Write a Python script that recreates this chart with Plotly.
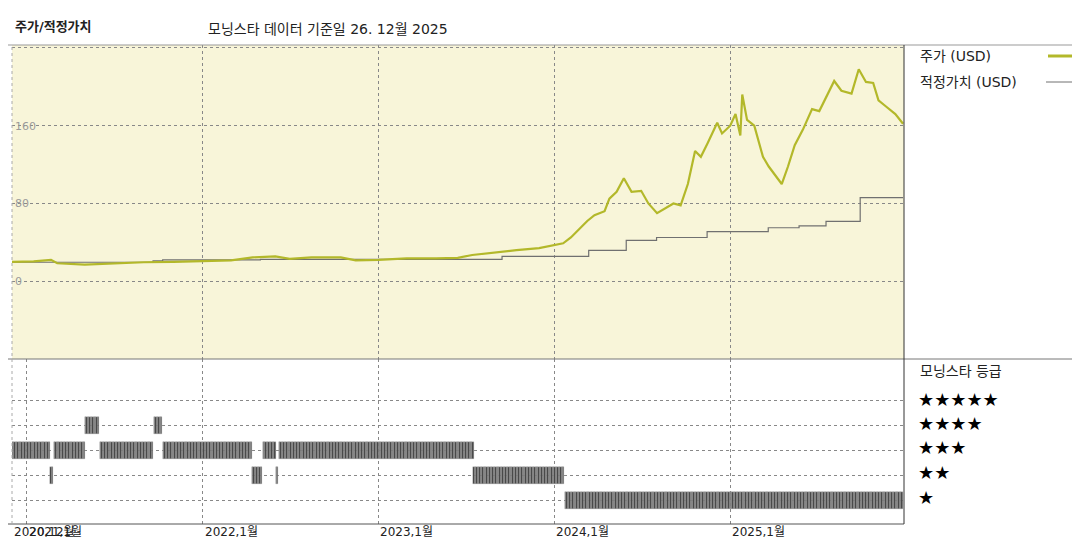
import plotly.graph_objects as go
import pandas as pd

price_dates = ["2020-12-01","2021-01-15","2021-02-20","2021-03-05","2021-05-01","2021-07-01","2021-09-01","2021-11-01",
 "2022-01-01","2022-03-01","2022-04-15","2022-06-01","2022-07-01","2022-08-15","2022-10-15","2022-11-15",
 "2023-01-01","2023-03-01","2023-05-01","2023-06-15","2023-07-15","2023-09-01","2023-10-15","2023-12-01",
 "2024-01-01","2024-01-20","2024-02-05","2024-02-25","2024-03-10","2024-03-25","2024-04-15","2024-04-25",
 "2024-05-10","2024-05-25","2024-06-10","2024-06-30","2024-07-15","2024-08-02","2024-08-15","2024-09-05",
 "2024-09-20","2024-10-05","2024-10-20","2024-11-01","2024-11-15","2024-12-05","2024-12-15","2025-01-01",
 "2025-01-12","2025-01-22","2025-01-26","2025-02-05","2025-02-20","2025-03-10","2025-03-22","2025-04-05",
 "2025-04-18","2025-05-01","2025-05-15","2025-06-01","2025-06-20","2025-07-05","2025-07-20","2025-08-05",
 "2025-08-20","2025-09-10","2025-09-25","2025-10-10","2025-10-25","2025-11-05","2025-11-20","2025-12-10","2025-12-26"]
price_vals = [20,20.5,22,18.5,17,18.5,19.5,20,
 21,21.5,24.5,25.5,23,24.5,24.5,21.5,
 22,23.5,23.5,24,27,30,32,34,
 37,39,45,55,62,68,72,85,
 92,106,92,93,80,70,74,80,
 78,100,134,128,142,163,152,160,
 172,150,192,166,160,128,118,108,
 100,118,140,156,177,175,190,206,
 196,193,218,205,204,186,180,172,162]

fv_dates = ["2020-12-01","2021-09-20","2021-10-10","2022-05-01","2023-09-15","2024-03-13","2024-05-30",
            "2024-08-01","2024-11-14","2025-03-21","2025-05-24","2025-07-19","2025-09-28","2025-12-26"]
fv_vals = [19.5,21,22,22.5,25.6,31.8,42,45,51,55,57,61.5,86,86]

rating_start = ["2020-12-01","2021-02-20","2021-02-27","2021-05-03","2021-06-03","2021-09-23","2021-10-12",
                "2022-04-15","2022-05-07","2022-06-03","2022-06-10","2023-07-19","2024-01-25"]
rating_end   = ["2021-02-18","2021-02-24","2021-05-01","2021-06-01","2021-09-21","2021-10-10","2022-04-13",
                "2022-05-05","2022-06-01","2022-06-07","2023-07-17","2024-01-23","2025-12-26"]
rating_vals  = [3,2,3,4,3,4,3,2,3,2,3,2,1]

ytick_vals = [0,80,160,240]
star_labels = ["★★★★★","★★★★","★★★","★★","★"]
x_tick_dates = ["2020-12-01","2021-01-01","2022-01-01","2023-01-01","2024-01-01","2025-01-01"]
x_tick_labels = ["2020,12월","2021,1월","2022,1월","2023,1월","2024,1월","2025,1월"]

def px(x): return (x-4)/892
def py(y): return (516-y)/479

fig = go.Figure()
fig.add_trace(go.Scatter(x=fv_dates, y=fv_vals, mode="lines", line=dict(color="#707070", width=1.2, shape="hv"),
                         xaxis="x", yaxis="y", showlegend=False))
fig.add_trace(go.Scatter(x=price_dates, y=price_vals, mode="lines", line=dict(color="#b3b82a", width=2.2),
                         xaxis="x", yaxis="y", showlegend=False))

bx, by, bb = [], [], []
for s, e, r in zip(rating_start, rating_end, rating_vals):
    for d in pd.date_range(s, e, freq="3D"):
        bx.append(d); by.append(0.68); bb.append(r-0.34)
fig.add_trace(go.Bar(x=bx, y=by, base=bb, width=3*86400000, marker=dict(color="#3a3a3a", line=dict(width=0.4, color="#bbbbbb")),
                     xaxis="x2", yaxis="y2", showlegend=False))

grid = dict(showgrid=True, gridcolor="#888", griddash="dot", gridwidth=1, automargin=False)
xr = ["2020-12-01","2025-12-28"]
fig.update_layout(
    width=1080, height=540, margin=dict(l=4, r=184, t=37, b=24, autoexpand=False),
    paper_bgcolor="white", plot_bgcolor="rgba(0,0,0,0)", bargap=0,
    font=dict(family="DejaVu Sans, Noto Sans CJK KR, sans-serif"),
    xaxis=dict(domain=[0,1], range=xr, type="date", tickvals=x_tick_dates, showticklabels=False, anchor="y", **grid, zeroline=False),
    yaxis=dict(domain=[py(351),1], range=[-80,243], tickvals=ytick_vals, ticklabelposition="inside",
               tickfont=dict(size=11, color="#9a9a9a"), zeroline=False, **grid),
    xaxis2=dict(domain=[0,1], range=xr, type="date", tickvals=x_tick_dates, showticklabels=False, anchor="y2", **grid, zeroline=False),
    yaxis2=dict(domain=[0,py(351)], range=[0.04,6.64], tickvals=[1,2,3,4,5], showticklabels=False, zeroline=False, **grid),
)
shapes = [
    dict(type="rect", xref="paper", yref="paper", x0=0, x1=1, y0=py(351), y1=1, fillcolor="#f8f5d9", line=dict(width=0), layer="below"),
    dict(type="line", xref="paper", yref="paper", x0=px(0), x1=px(1080), y0=1, y1=1, line=dict(color="#999", width=1)),
    dict(type="line", xref="paper", yref="paper", x0=px(0), x1=px(1080), y0=py(351), y1=py(351), line=dict(color="#777", width=1)),
    dict(type="line", xref="paper", yref="paper", x0=px(0), x1=px(896), y0=0, y1=0, line=dict(color="#555", width=1)),
    dict(type="line", xref="paper", yref="paper", x0=1, x1=1, y0=0, y1=1, line=dict(color="#333", width=1)),
    dict(type="line", xref="paper", yref="paper", x0=0, x1=0, y0=0, y1=1, line=dict(color="#aaa", width=1, dash="dot")),
    dict(type="line", xref="paper", yref="paper", x0=px(1040), x1=px(1072), y0=py(48), y1=py(48), line=dict(color="#b3b82a", width=3)),
    dict(type="line", xref="paper", yref="paper", x0=px(1038), x1=px(1072), y0=py(74), y1=py(74), line=dict(color="#707070", width=1)),
]
fig.update_layout(shapes=shapes)
ann = [
    dict(text="<b>주가/적정가치</b>", x=px(5), y=py(18), xanchor="left", font=dict(size=13, color="#222")),
    dict(text="모닝스타 데이터 기준일 26. 12월 2025", x=px(198), y=py(21), xanchor="left", font=dict(size=14, color="#222")),
    dict(text="주가 (USD)", x=px(910), y=py(48), xanchor="left", font=dict(size=14, color="#222")),
    dict(text="적정가치 (USD)", x=px(910), y=py(74), xanchor="left", font=dict(size=14, color="#222")),
    dict(text="모닝스타 등급", x=px(910), y=py(363), xanchor="left", font=dict(size=14, color="#222")),
]
for i, s in enumerate(star_labels):
    ann.append(dict(text=s, x=px(908), y=py(391+24.5*i), xanchor="left", font=dict(size=18, color="#000")))
for d, l in zip(x_tick_dates, x_tick_labels):
    ann.append(dict(text=l, x=d, xref="x2", y=py(524), yref="paper", xanchor="left", showarrow=False, font=dict(size=12, color="#222")))
for a in ann:
    a.setdefault("xref", "paper"); a.setdefault("yref", "paper"); a["showarrow"] = False; a.setdefault("yanchor", "middle")
fig.update_layout(annotations=ann)
fig.write_html("out.html")
